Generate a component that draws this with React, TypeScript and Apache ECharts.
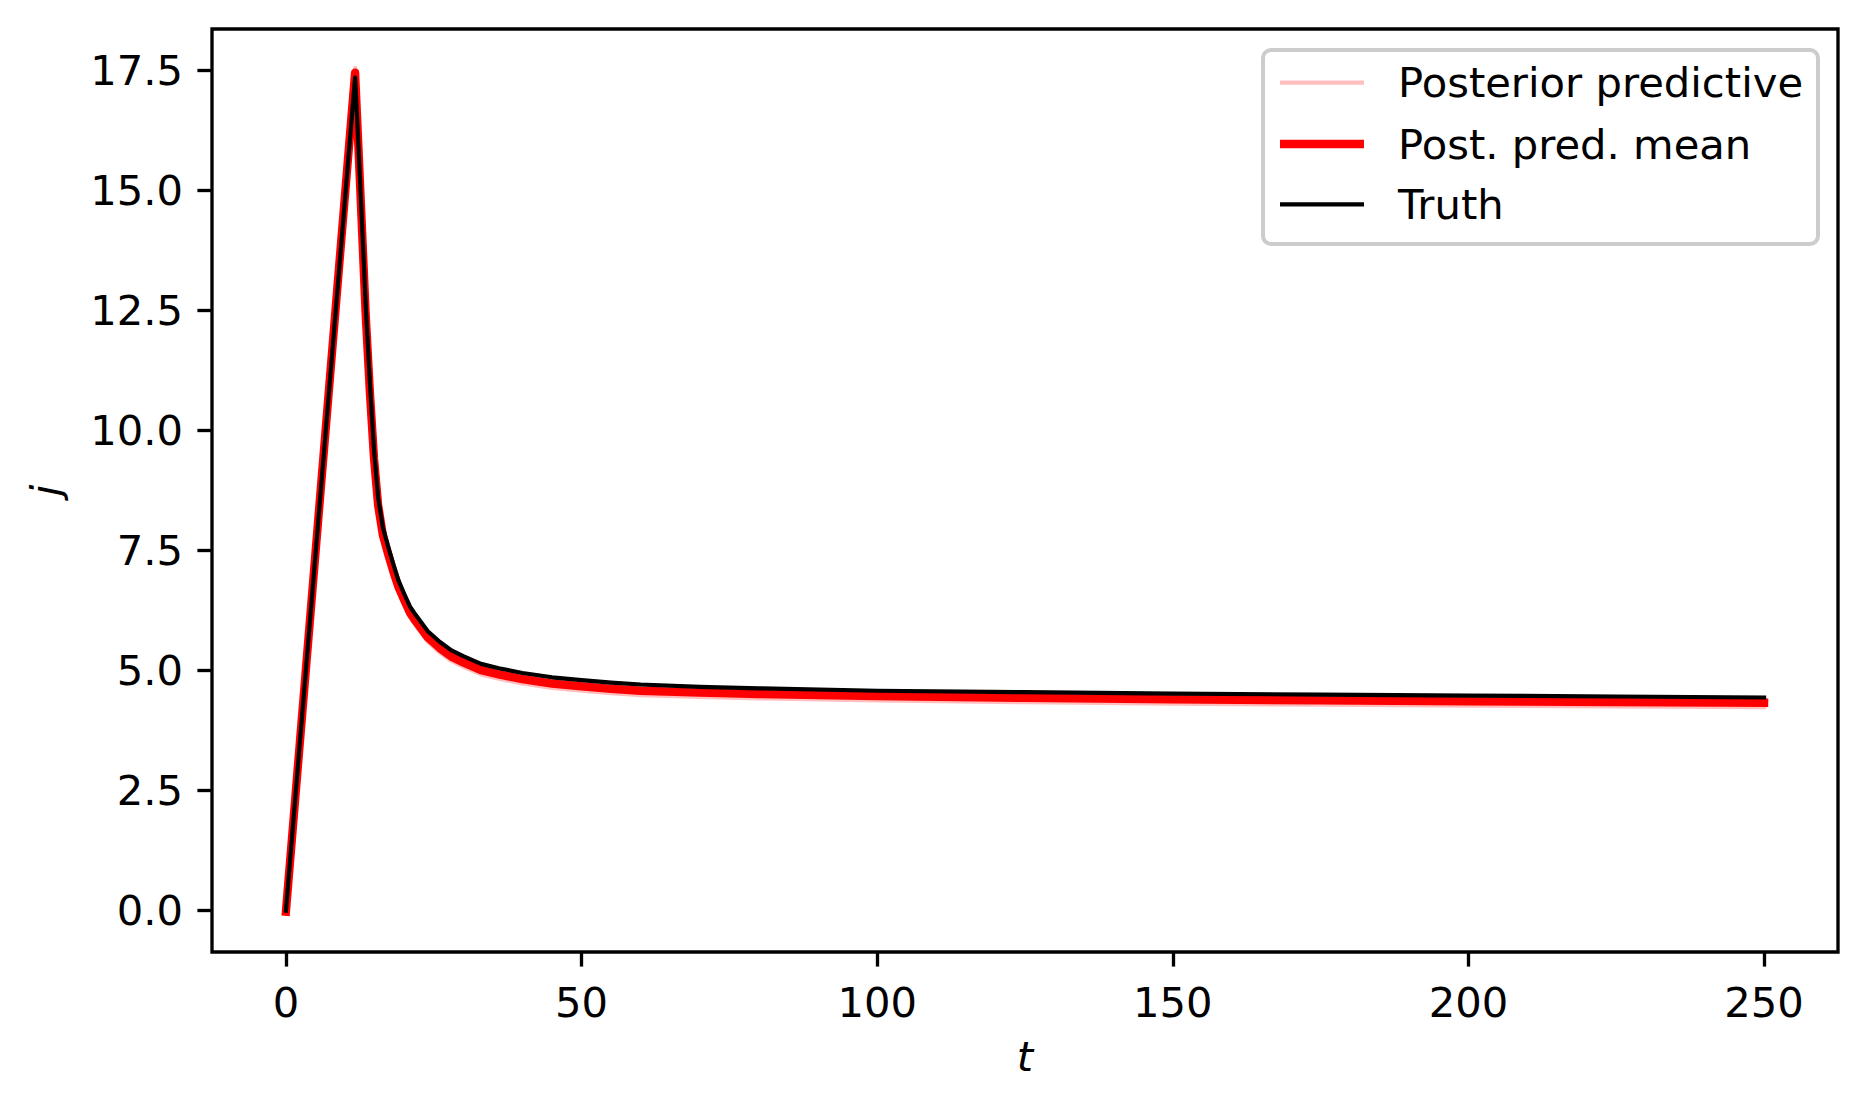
import React, { useEffect, useRef } from "react";
import * as echarts from "echarts";

// ---- data ----
const tGrid = [0, 11.7, 12.3, 12.9, 13.5, 14.2, 14.9, 15.6, 16.4, 17.3, 18.2, 19, 20, 21, 22, 24, 26, 28, 30, 33, 36, 40, 45, 50, 55, 60, 70, 80, 100, 125, 150, 175, 200, 225, 250];

const truthValues = [0, 17.35, 15.85, 14.25, 12.6, 11.0, 9.6, 8.6, 7.98, 7.58, 7.2, 6.89, 6.6, 6.33, 6.15, 5.82, 5.6, 5.42, 5.3, 5.14, 5.05, 4.95, 4.86, 4.8, 4.75, 4.71, 4.66, 4.63, 4.58, 4.55, 4.52, 4.5, 4.48, 4.46, 4.44];

const meanValues = [-0.02, 17.45, 15.8, 14.1, 12.4, 10.8, 9.42, 8.44, 7.82, 7.42, 7.05, 6.75, 6.47, 6.2, 6.02, 5.69, 5.47, 5.29, 5.17, 5.01, 4.92, 4.82, 4.73, 4.67, 4.62, 4.58, 4.54, 4.51, 4.47, 4.43, 4.4, 4.38, 4.36, 4.345, 4.33];

const sampleA = [0.02, 17.55, 15.9, 14.2, 12.5, 10.9, 9.5, 8.52, 7.9, 7.5, 7.13, 6.83, 6.55, 6.28, 6.1, 5.77, 5.55, 5.37, 5.25, 5.09, 5.0, 4.9, 4.81, 4.75, 4.7, 4.66, 4.62, 4.59, 4.55, 4.51, 4.48, 4.46, 4.44, 4.425, 4.41];

const sampleB = [-0.05, 17.3, 15.65, 13.95, 12.25, 10.65, 9.3, 8.33, 7.7, 7.31, 6.95, 6.66, 6.38, 6.11, 5.93, 5.6, 5.38, 5.2, 5.08, 4.92, 4.83, 4.73, 4.64, 4.58, 4.53, 4.49, 4.45, 4.42, 4.38, 4.34, 4.31, 4.29, 4.27, 4.255, 4.24];

const xTicks = [0, 50, 100, 150, 200, 250];
const yTicks = [0, 2.5, 5, 7.5, 10, 12.5, 15, 17.5];

const legendNames = ["Posterior predictive", "Post. pred. mean", "Truth"];

const FONT = "DejaVu Sans";
const FS = 41.7;

const pairs = (ts: number[], vs: number[]) => ts.map((t, i) => [t, vs[i]]);

export default function App() {
  const ref = useRef<HTMLDivElement>(null);

  useEffect(() => {
    document.body.style.margin = "0";
    document.body.style.overflow = "hidden";
    const chart = echarts.init(ref.current!, null, { renderer: "svg" });

    const axisLabelBase = {
      fontFamily: FONT,
      fontSize: FS,
      color: "#000",
      margin: 29,
    };

    const legendRows = [82.7, 144, 204.3];

    chart.setOption({
      animation: false,
      backgroundColor: "#fff",
      grid: {
        left: 212,
        top: 29,
        width: 1626,
        height: 923,
        show: true,
        borderColor: "#000",
        borderWidth: 3.33,
        backgroundColor: "transparent",
      },
      xAxis: {
        type: "value",
        min: -12.5,
        max: 262.5,
        axisLine: { show: false, onZero: false },
        splitLine: { show: false },
        axisTick: {
          show: true,
          customValues: xTicks,
          length: 14.6,
          lineStyle: { color: "#000", width: 3.33 },
        },
        axisLabel: {
          ...axisLabelBase,
          customValues: xTicks,
          formatter: (v: number) => String(v),
        },
        name: "t",
        nameLocation: "middle",
        nameGap: 83,
        nameTextStyle: { fontFamily: FONT, fontSize: FS, fontStyle: "italic", color: "#000" },
      },
      yAxis: {
        type: "value",
        min: -0.86,
        max: 18.36,
        axisLine: { show: false, onZero: false },
        splitLine: { show: false },
        axisTick: {
          show: true,
          customValues: yTicks,
          length: 14.6,
          lineStyle: { color: "#000", width: 3.33 },
        },
        axisLabel: {
          ...axisLabelBase,
          customValues: yTicks,
          formatter: (v: number) => v.toFixed(1),
        },
        name: "j",
        nameLocation: "middle",
        nameRotate: 90,
        nameGap: 146,
        nameTextStyle: { fontFamily: FONT, fontSize: FS, fontStyle: "italic", color: "#000" },
      },
      series: [
        {
          name: "Posterior predictive",
          type: "line",
          data: pairs(tGrid, sampleA),
          showSymbol: false,
          lineStyle: { color: "rgba(255,0,0,0.25)", width: 4.17, cap: "square", join: "round" },
          z: 1,
        },
        {
          name: "Posterior predictive",
          type: "line",
          data: pairs(tGrid, sampleB),
          showSymbol: false,
          lineStyle: { color: "rgba(255,0,0,0.25)", width: 4.17, cap: "square", join: "round" },
          z: 1,
        },
        {
          name: "Post. pred. mean",
          type: "line",
          data: pairs(tGrid, meanValues),
          showSymbol: false,
          lineStyle: { color: "#ff0000", width: 8.33, cap: "square", join: "round" },
          z: 2,
        },
        {
          name: "Truth",
          type: "line",
          data: pairs(tGrid, truthValues),
          showSymbol: false,
          lineStyle: { color: "#000000", width: 4.17, cap: "square", join: "round" },
          z: 3,
        },
      ],
      graphic: [
        {
          type: "group",
          z: 100,
          children: [
            {
              type: "rect",
              shape: { x: 1263, y: 50, width: 555, height: 194, r: 8 },
              style: { fill: "rgba(255,255,255,0.8)", stroke: "#cccccc", lineWidth: 4 },
            },
            {
              type: "line",
              shape: { x1: 1280, y1: legendRows[0], x2: 1364, y2: legendRows[0] },
              style: { stroke: "rgba(255,0,0,0.25)", lineWidth: 4.17 },
            },
            {
              type: "line",
              shape: { x1: 1280, y1: legendRows[1], x2: 1364, y2: legendRows[1] },
              style: { stroke: "#ff0000", lineWidth: 8.33 },
            },
            {
              type: "line",
              shape: { x1: 1280, y1: legendRows[2], x2: 1364, y2: legendRows[2] },
              style: { stroke: "#000000", lineWidth: 4.17 },
            },
            ...legendNames.map((n, i) => ({
              type: "text",
              x: 1398,
              y: legendRows[i],
              style: {
                text: n,
                fontFamily: FONT,
                fontSize: FS,
                fill: "#000",
                verticalAlign: "middle",
                align: "left",
              },
            })),
          ],
        },
      ],
    });

    return () => chart.dispose();
  }, []);

  return <div ref={ref} style={{ width: 1869, height: 1109 }} />;
}
